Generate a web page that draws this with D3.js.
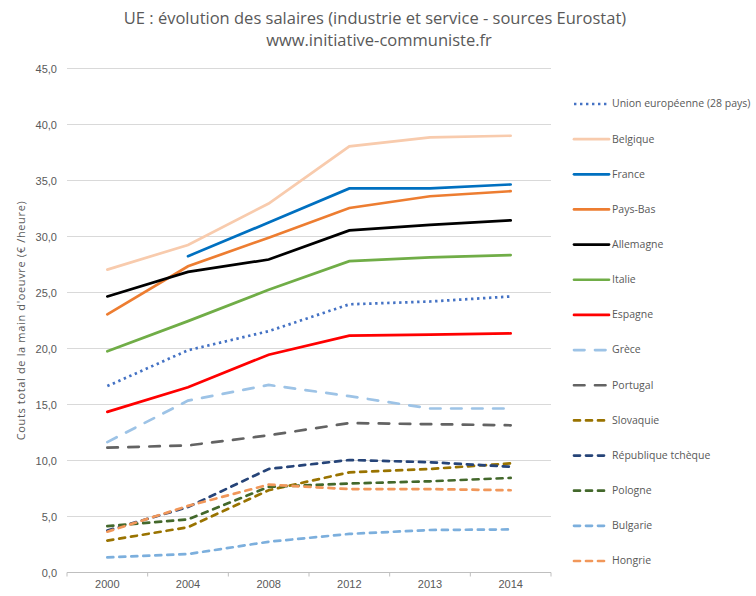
<!DOCTYPE html>
<html>
<head>
<meta charset="utf-8">
<script src="https://cdnjs.cloudflare.com/ajax/libs/d3/7.8.5/d3.min.js"></script>
<style>
  body { margin: 0; background: #fff; }
  svg { display: block; font-family: "Open Sans", "Noto Sans", sans-serif; }
  text { fill: #595959; }
</style>
</head>
<body>
<svg id="chart" width="756" height="596"></svg>
<script>
var years = ['2000', '2004', '2008', '2012', '2013', '2014'];
var yTicks = [0, 5, 10, 15, 20, 25, 30, 35, 40, 45];

var unionEuropeenne = [16.6, 19.8, 21.5, 23.9, 24.15, 24.6];
var belgique = [27.0, 29.2, 32.9, 38.0, 38.8, 38.95];
var france = [null, 28.2, 31.2, 34.25, 34.25, 34.6];
var paysBas = [23.0, 27.3, 29.85, 32.5, 33.55, 34.0];
var allemagne = [24.6, 26.8, 27.9, 30.5, 31.0, 31.4];
var italie = [19.7, 22.4, 25.2, 27.75, 28.1, 28.3];
var espagne = [14.3, 16.5, 19.4, 21.1, 21.2, 21.3];
var grece = [11.6, 15.3, 16.7, 15.7, 14.6, 14.6];
var portugal = [11.1, 11.3, 12.2, 13.3, 13.2, 13.1];
var slovaquie = [2.8, 4.0, 7.3, 8.9, 9.2, 9.7];
var tcheque = [3.7, 5.8, 9.2, 10.0, 9.8, 9.4];
var pologne = [4.1, 4.7, 7.6, 7.9, 8.1, 8.4];
var bulgarie = [1.3, 1.6, 2.7, 3.4, 3.75, 3.8];
var hongrie = [3.6, 5.9, 7.8, 7.4, 7.4, 7.3];

var dotted = '2.4 3.6';
var longDash = '10.5 10.5';
var dash = '6 6';

var series = [
  {name: 'Union européenne (28 pays)', values: unionEuropeenne, color: '#4472c4', dash: dotted, cap: 'butt'},
  {name: 'Belgique', values: belgique, color: '#f8cbad'},
  {name: 'France', values: france, color: '#0070c0'},
  {name: 'Pays-Bas', values: paysBas, color: '#ed7d31'},
  {name: 'Allemagne', values: allemagne, color: '#000000'},
  {name: 'Italie', values: italie, color: '#70ad47'},
  {name: 'Espagne', values: espagne, color: '#ff0000'},
  {name: 'Grèce', values: grece, color: '#9dc3e6', dash: longDash},
  {name: 'Portugal', values: portugal, color: '#636363', dash: longDash},
  {name: 'Slovaquie', values: slovaquie, color: '#997300', dash: dash},
  {name: 'République tchèque', values: tcheque, color: '#264478', dash: dash},
  {name: 'Pologne', values: pologne, color: '#43682b', dash: dash},
  {name: 'Bulgarie', values: bulgarie, color: '#7cafdd', dash: dash},
  {name: 'Hongrie', values: hongrie, color: '#f1975a', dash: dash}
];

var svg = d3.select('#chart');
var plot = {left: 67, right: 551, top: 68, bottom: 572};
var lineWidth = 2.7;

var x = d3.scaleBand().domain(years).range([plot.left, plot.right]);
var y = d3.scaleLinear().domain([0, 45]).range([plot.bottom, plot.top]);

var frFormat = function(d) {
  return d3.format('.1f')(d).replace('.', ',');
};

// gridlines
svg.append('g')
  .selectAll('line')
  .data(yTicks.slice(1))
  .enter()
  .append('line')
  .attr('x1', plot.left)
  .attr('x2', plot.right)
  .attr('y1', function(d) { return y(d) + 0.5; })
  .attr('y2', function(d) { return y(d) + 0.5; })
  .attr('stroke', '#d9d9d9')
  .attr('stroke-width', 1);

// x axis, ticks sit between the categories
var xAxis = svg.append('g')
  .attr('transform', 'translate(0,' + (plot.bottom + 0.5) + ')')
  .call(d3.axisBottom(x).tickSize(0).tickPadding(8));
xAxis.select('.domain').attr('stroke', '#bfbfbf').attr('d', 'M' + plot.left + ',0H' + plot.right);
xAxis.selectAll('text').attr('font-size', 11).style('fill', '#595959');
xAxis.append('g')
  .selectAll('line')
  .data(years.map(function(d) { return x(d); }).concat([plot.right]))
  .enter()
  .append('line')
  .attr('x1', function(d) { return d; })
  .attr('x2', function(d) { return d; })
  .attr('y1', 0)
  .attr('y2', 4)
  .attr('stroke', '#bfbfbf');

// y axis, labels only
var yAxis = svg.append('g')
  .attr('transform', 'translate(' + plot.left + ',0.5)')
  .call(d3.axisLeft(y).tickValues(yTicks).tickFormat(frFormat).tickSize(0).tickPadding(10));
yAxis.select('.domain').remove();
yAxis.selectAll('text').attr('font-size', 11).style('fill', '#595959');

svg.append('text')
  .attr('transform', 'translate(25,320.5) rotate(-90)')
  .attr('text-anchor', 'middle')
  .attr('font-size', 11)
  .attr('letter-spacing', 0.65)
  .text('Couts total de la main d\'oeuvre (€ /heure)');

// title
var title = svg.append('text').attr('text-anchor', 'middle').attr('font-size', 16.5);
title.append('tspan').attr('x', 375).attr('y', 24)
  .text('UE : évolution des salaires (industrie et service - sources Eurostat)');
title.append('tspan').attr('x', 379).attr('y', 46)
  .text('www.initiative-communiste.fr');

// lines
var line = d3.line()
  .defined(function(d) { return d !== null; })
  .x(function(d, i) { return x(years[i]) + x.bandwidth() / 2; })
  .y(function(d) { return y(d); });

svg.append('g')
  .selectAll('path')
  .data(series)
  .enter()
  .append('path')
  .attr('d', function(d) { return line(d.values); })
  .attr('fill', 'none')
  .attr('stroke', function(d) { return d.color; })
  .attr('stroke-width', lineWidth)
  .attr('stroke-dasharray', function(d) { return d.dash || null; })
  .attr('stroke-linecap', function(d) { return d.cap || 'round'; });

// legend
var legendY = d3.scalePoint()
  .domain(series.map(function(d) { return d.name; }))
  .range([104, 561]);

var legend = svg.append('g')
  .selectAll('g')
  .data(series)
  .enter()
  .append('g')
  .attr('transform', function(d) { return 'translate(574,' + legendY(d.name) + ')'; });

legend.append('line')
  .attr('x1', 0)
  .attr('x2', 35)
  .attr('stroke', function(d) { return d.color; })
  .attr('stroke-width', lineWidth)
  .attr('stroke-dasharray', function(d) { return d.dash || null; })
  .attr('stroke-linecap', function(d) { return d.cap || 'round'; });

legend.append('text')
  .attr('x', 38)
  .attr('dy', '0.32em')
  .attr('font-size', 10.5)
  .text(function(d) { return d.name; });
</script>
</body>
</html>
